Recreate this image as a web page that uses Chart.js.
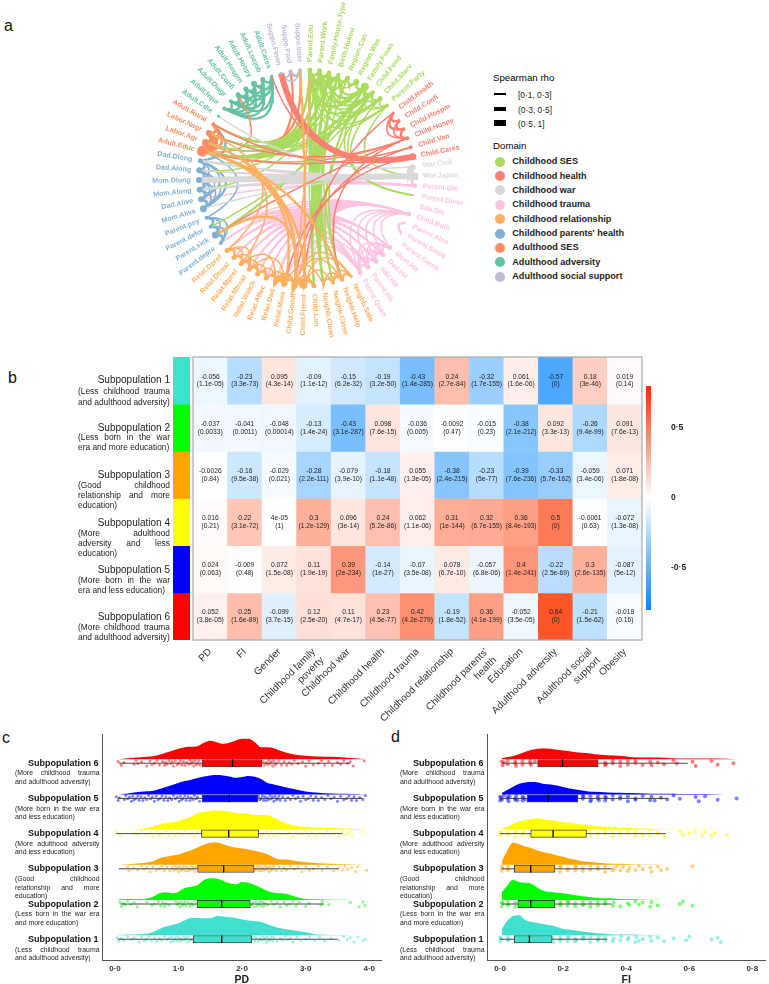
<!DOCTYPE html>
<html>
<head>
<meta charset="utf-8">
<title>Subpopulations</title>
<script src="https://cdn.jsdelivr.net/npm/chart.js@4"></script>
<style>
  html, body { margin: 0; padding: 0; background: #fff; }
  #page { position: relative; width: 769px; height: 984px; overflow: hidden; font-family: "Liberation Sans", Arial, sans-serif; }
  #page canvas { position: absolute; }
  .txt { position: absolute; color: #222; line-height: 1; }
  .dot { position: absolute; border-radius: 50%; }
  .key { position: absolute; background: #000; }
</style>
</head>
<body>
<div id="page"></div>
<script>
'use strict';

// ---- panel a: network
const nodeLabels = ['Parent.Edu','Parent.Work','Family.House.Type','Birth.Hukou','Region.Can','Region.Was','Family.Finan','Child.Food','Child.Starv','Parent.Party',
  'Child.Health','Child.Confi','Child.Hospm','Child.Hospy','Child.Van','Child.Cares','War.Civil','War.Japan',
  'Parent.Die','Parent.Divor','Sibl.Die','Child.Bulli','Parent.Alco','Parent.Smok','Parent.Gamb','Mom.Hit','Dad.Hit','Sibl.Hit','Parent.Hit','Parent.Quarr',
  'Neighb.Safe','Neighb.Help','Neighb.Close','Neighb.Clean','Child.Lon','Child.Friend','Child.Goodf','Relat.Mom','Relat.Dad','Relat.Affec','Relat.Watch','Relat.Mtreat','Relat.Mpref','Relat.Dtreat','Relat.Dpref',
  'Parent.depre','Parent.sick','Parent.defor','Parent.psy','Mom.Alive','Dad.Alive','Mom.Along','Mom.Dlong','Dad.Along','Dad.Dlong',
  'Adult.Educ','Labor.Agr','Labor.Nagr','Adult.Rural',
  'Adult.Cdie','Adult.Injur','Adult.Diagr','Adult.Confi','Adult.Hospm','Adult.Hospy','Adult.Losjob','Adult.Cares',
  'Suppo.Finan','Suppo.Paid','Suppo.Inter'];
const nodeDomain = [0,0,0,0,0,0,0,0,0,0, 1,1,1,1,1,1, 2,2, 3,3,3,3,3,3,3,3,3,3,3,3,
  4,4,4,4,4,4,4,4,4,4,4,4,4,4,4, 5,5,5,5,5,5,5,5,5,5, 6,6,6,6, 7,7,7,7,7,7,7,7, 8,8,8];
const nodeSize = [2.5,2.5,2,2,2.5,3,4,2,2.5,2, 1.5,2,2,2,2,3.5, 1.5,3.5,
  2.5,1,0.5,2.5,1,1,0.8,2.5,2.5,2.5,2.5,2.5,
  1.5,2,2,1.5,2.5,3,3,2.5,2.5,2.5,2.5,2.5,2.5,2.5,2.5,
  2,3.5,2,2,3.5,3,3,3,3,2.5, 5.5,3,3,2, 1.5,2,2,2.5,2.5,3,2.5,1.5, 1.5,2,2];
const domainNames = ['Childhood SES','Childhood health','Childhood war','Childhood trauma','Childhood relationship',"Childhood parents' health",'Adulthood SES','Adulthood adversity','Adulthood social support'];
const domainColors = ['#A9DB5F','#FB8072','#D9D9D9','#FFC4E1','#FFB062','#80B1D3','#FC8D62','#66C2A5','#BEBADA'];
const rhoKeyLabels = ['[0·1, 0·3]','(0·3, 0·5]','(0·5, 1]'];

// edges: [from, to, width class] (no class = thinnest)
const sesEdges = [[0,1,2],[0,2,2],[0,3,2],[1,2,2],[1,3,2],[2,3,2],[0,4],[1,4],[3,4],[4,5,2],[3,5],[0,6,2],[1,6,2],[2,6,2],[3,6,2],[0,7,2],[1,7],[2,7,2],[3,7],[6,7,2],[7,8],[6,8],[2,8],[1,8],[0,8],[8,9],[6,9],[7,9],[0,9],[1,9],[5,6,2],
  [0,55,2],[1,55,2],[2,55,2],[3,55,2],[6,55,2],[7,55],[0,56],[1,56],[2,56],[3,56],[0,57],[1,57],[2,57],[3,57],[0,58],[1,58],[3,58],[4,58],[6,57],[7,57],[0,54],[1,53],[2,51],[6,46,2],[7,47],[0,33,2],[1,33],[2,33,2],[1,32],[2,32],[0,34],[3,34],[3,31],[4,33],[6,31],[8,19],[9,17],
  [0,32],[1,34],[2,34],[3,33],[3,32],[6,32],[7,33],[6,19],[7,19]];
const healthEdges = [[10,11,2],[11,12,2],[12,13,2],[10,12,2],[11,13],[10,13],[15,67,3],[13,46],[14,36],[15,37],[10,35],[13,31],[15,66],[14,55],[15,58],[13,57]];
const warEdges = [[16,17,3],[16,59],[17,54,2],[17,52,3],[17,51,2],[17,53],[17,49]];
const traumaEdges = [[18,52,2],[18,51,2],[18,53],[18,50],[18,54],[22,23,2],[25,26,2],[26,27,2],[27,28,2],[28,29,2],[25,27],[26,28],[27,29],[25,28],[25,29],[26,29],[21,25],[21,26],[21,27],[21,28],[21,29],
  [21,46],[25,41],[26,43],[25,37],[26,38],[28,39],[29,39],[29,40],[28,41],[27,42],[25,42],[26,44],[25,44],[26,42],[21,41],[21,39],[21,40],[29,38],[29,37],[21,37],[28,36],[29,36],[21,36],[26,40],[21,45],[25,45],[29,44],[28,43],
  [21,34],[21,35],[21,38],[21,42],[21,43],[21,44],[29,41],[29,42],[28,40],[28,42],[27,41],[27,40],[25,40],[26,41],[26,39],[25,39],[28,44],[29,43],[25,46],[26,46],[28,46],[27,46],[26,45],[28,45]];
const relationEdges = [[30,31,2],[31,32,2],[32,33],[30,32],[31,33],[34,35,2],[35,36,3],[34,36],[36,37,2],[37,38,3],[36,38,2],[37,39],[38,39,2],[39,40,2],[38,40],[40,41,2],[39,41],[41,42,2],[40,42],[42,43,2],[41,43],[43,44,2],[42,44],[41,44],[37,41],[38,42],[36,35],[30,35],[31,36],[32,35],[30,36],[33,37],
  [35,69,2],[36,55,2],[37,55,2],[36,56,2],[35,55,2],[46,36,2],[31,55,2],[44,57],[42,56],[36,0]];
const parentEdges = [[45,46,2],[46,47,2],[47,48,2],[45,47],[46,48],[45,48],[49,50,2],[50,51,2],[51,52,2],[52,53,2],[53,54,2],[49,51],[50,52],[51,53],[52,54],[49,52],[50,53],[49,53],[50,54],[49,54,2],[54,58,2],[48,55]];
const adultSesEdges = [[55,56,3],[55,57,3],[55,58,2],[56,57,2],[56,58,2],[57,58,2],[55,68,2],[58,69,2],[55,62],[55,13]];
const adversityEdges = [[60,61,2],[61,62,2],[62,63,2],[63,64,2],[64,65,2],[65,66,2],[60,62,2],[61,63,2],[62,64,2],[63,65,2],[64,66,2],[60,63,2],[61,64,2],[62,65,2],[63,66,2],[60,65,2],[61,66,2],[60,66,2],[60,64,2],[61,65,2]];
const supportEdges = [[68,69,2],[67,68],[67,69],[68,69]];
const edgeWidths = [0, 1.5, 2.3, 6];

// ---- panel b: heatmap
const heatColumns = ['PD','FI','Gender',['Childhood family','poverty'],'Childhood war','Childhood health','Childhood trauma','Childhood relationship',["Childhood parents'",'health'],'Education','Adulthood adversity',['Adulthood social','support'],'Obesity'];
const rhoRow1 = ['-0.056','-0.23','0.095','-0.09','-0.15','-0.19','-0.43','0.24','-0.32','0.061','-0.57','0.18','0.019'];
const pRow1 = ['1.1e-05','3.3e-73','4.3e-14','1.1e-12','6.2e-32','3.2e-50','1.4e-285','2.7e-84','1.7e-155','1.6e-06','0','3e-46','0.14'];
const rhoRow2 = ['-0.037','-0.041','-0.048','-0.13','-0.43','0.098','-0.036','-0.0092','-0.015','-0.38','0.092','-0.26','0.091'];
const pRow2 = ['0.0033','0.0011','0.00014','1.4e-24','3.1e-287','7.6e-15','0.005','0.47','0.23','2.1e-212','3.3e-13','9.4e-99','7.6e-13'];
const rhoRow3 = ['-0.0026','-0.16','-0.029','-0.28','-0.079','-0.18','0.055','-0.38','-0.23','-0.39','-0.33','-0.059','0.071'];
const pRow3 = ['0.84','9.5e-38','0.021','2.2e-111','3.9e-10','1.1e-48','1.3e-05','2.4e-215','5e-77','7.6e-236','5.7e-162','3.4e-06','1.8e-08'];
const rhoRow4 = ['0.016','0.22','4e-05','0.3','0.096','0.24','0.062','0.31','0.32','0.36','0.5','-0.0061','-0.072'];
const pRow4 = ['0.21','3.1e-72','1','1.2e-129','3e-14','5.2e-86','1.1e-06','1e-144','6.7e-155','8.4e-193','0','0.63','1.3e-08'];
const rhoRow5 = ['0.024','-0.009','0.072','0.11','0.39','-0.14','-0.07','0.078','-0.057','0.4','-0.22','0.3','-0.087'];
const pRow5 = ['0.063','0.48','1.5e-08','1.9e-19','2e-234','1e-27','3.5e-08','6.7e-10','6.8e-06','1.4e-241','2.5e-69','2.6e-135','5e-12'];
const rhoRow6 = ['0.052','0.25','-0.099','0.12','0.11','0.23','0.42','-0.19','0.36','-0.052','0.64','-0.21','-0.018'];
const pRow6 = ['3.8e-05','1.6e-89','3.7e-15','2.5e-20','4.7e-17','4.5e-77','4.2e-279','1.8e-52','4.1e-199','3.5e-05','0','1.5e-62','0.16'];
const rhoRows = [rhoRow1,rhoRow2,rhoRow3,rhoRow4,rhoRow5,rhoRow6];
const pRows = [pRow1,pRow2,pRow3,pRow4,pRow5,pRow6];
const subColors = ['#40E0D0','#00FF00','#FFA500','#FFFF00','#0000FF','#FF0000'];
const subRgb = ['64,224,208','0,255,0','255,165,0','255,255,0','0,0,255','255,0,0'];
const heatDesc = [['(Less childhood trauma','and adulthood adversity)'],['(Less born in the war','era and more education)'],['(Good childhood','relationship and more','education)'],['(More adulthood','adversity and less','education)'],['(More born in the war','era and less education)'],['(More childhood trauma','and adulthood adversity)']];
const rainDesc = [['(Less childhood trauma','and adulthood adversity)'],['(Less born in the war era','and more education)'],['(Good childhood','relationship and more','education)'],['(More adulthood adversity','and less education)'],['(More born in the war era','and less education)'],['(More childhood trauma','and adulthood adversity)']];

// ---- panels c, d: rainclouds
const pdGrid = [0.05,0.2,0.4,0.6,0.7,0.8,0.9,1.0,1.1,1.2,1.3,1.4,1.5,1.6,1.7,1.8,1.9,2.0,2.1,2.2,2.3,2.4,2.5,2.6,2.7,2.8,3.0,3.2,3.4,3.6,3.95];
const pdDensity1 = [.01,.02,.03,.10,.19,.26,.31,.36,.45,.52,.52,.51,.51,.58,.56,.54,.52,.47,.44,.42,.40,.33,.26,.21,.18,.15,.09,.02,.01,.01,0];
const pdDensity2 = [.02,.03,.03,.10,.20,.23,.20,.25,.36,.40,.45,.60,.65,.64,.58,.50,.47,.54,.52,.45,.36,.27,.22,.20,.18,.12,.03,.02,.01,.01,0];
const pdDensity3 = [0,.02,.05,.11,.20,.24,.28,.31,.38,.44,.52,.60,.66,.67,.62,.56,.52,.49,.46,.42,.38,.32,.22,.16,.16,.13,.08,.05,.03,.02,0];
const pdDensity4 = [0,.01,.02,.09,.15,.19,.22,.26,.32,.39,.49,.53,.56,.57,.56,.54,.50,.49,.47,.44,.44,.43,.36,.26,.18,.13,.08,.06,.05,.03,0];
const pdDensity5 = [0,.03,.08,.11,.16,.22,.28,.35,.40,.44,.49,.54,.57,.58,.57,.54,.50,.52,.55,.53,.46,.34,.30,.25,.21,.17,.09,.05,.03,.02,0];
const pdDensity6 = [0,.03,.06,.09,.13,.19,.25,.31,.36,.37,.39,.49,.55,.51,.46,.49,.56,.61,.61,.51,.36,.36,.33,.25,.19,.15,.10,.08,.07,.05,0];
const pdDensities = [pdDensity1,pdDensity2,pdDensity3,pdDensity4,pdDensity5,pdDensity6];
const pdQ1 = [1.23,1.29,1.30,1.36,1.37,1.37];
const pdMedian = [1.68,1.68,1.71,1.79,1.80,1.85];
const pdQ3 = [2.15,2.13,2.19,2.26,2.25,2.31];
const pdLow = [.04,.09,.06,.02,.04,.06];
const pdHigh = [3.5,3.29,3.52,3.58,3.9,3.7];
const pdDots1 = [.03,.06,.1,.14,.2,.26,.3,.38,.42,.46,.5,.54,.58,.62,.66,.7,.74,.78,.82,.86,.88,.9,.92,.94,.96,.98,1,1.02,1.04,1.06,1.08,1.1,1.12,1.14,1.16,1.18,1.2,2.18,2.2,2.22,2.25,2.28,2.3,2.32,2.34,2.36,2.38,2.4,2.42,2.44,2.46,2.48,2.5,2.55,2.6,2.64,2.68,2.72,2.76,2.8,2.86,2.92,3,3.06,3.14,3.22,3.3,3.4,3.52,3.6,3.65,3.7,3.76,3.82,3.9,3.94];
const pdDots2 = [.08,.1,.13,.16,.2,.25,.3,.35,.5,.58,.62,.68,.72,.75,.78,.8,.85,.95,.98,1,1.02,1.04,1.06,1.08,1.1,1.12,1.15,1.18,1.2,1.23,1.26,2.15,2.17,2.2,2.22,2.24,2.26,2.28,2.3,2.32,2.34,2.36,2.4,2.46,2.5,2.55,2.6,2.66,2.7,2.75,2.8,2.85,2.9,3,3.05,3.24,3.26,3.36,3.7,3.84,3.9,3.93];
const pdDots3 = [.2,.22,.3,.36,.42,.46,.5,.55,.6,.65,.7,.74,.78,.82,.86,.9,.92,.94,.96,.98,1,1.02,1.04,1.06,1.08,1.1,1.12,1.14,1.16,1.18,1.2,1.22,1.24,1.26,1.28,2.2,2.22,2.24,2.26,2.28,2.3,2.32,2.34,2.36,2.38,2.4,2.42,2.44,2.46,2.48,2.5,2.54,2.58,2.62,2.66,2.7,2.76,2.82,2.88,2.94,3,3.06,3.12,3.2,3.26,3.34,3.44,3.52,3.58,3.62,3.66,3.72,3.78,3.82,3.96];
const pdDots4 = [.03,.08,.3,.36,.42,.5,.55,.6,.66,.7,.74,.8,.85,.9,.95,1,1.05,1.1,1.15,1.2,1.25,1.3,2.3,2.34,2.38,2.42,2.46,2.5,2.55,2.6,2.65,2.7,2.75,2.8,2.85,2.9,2.95,3,3.05,3.1,3.16,3.22,3.28,3.34,3.4,3.46,3.52,3.58,3.62,3.66,3.7,3.73,3.9];
const pdDots5 = [.02,.05,.07,.15,.17,.2,.23,.26,.28,.3,.33,.36,.38,.41,.44,.47,.5,.53,.56,.59,.62,.65,.68,.71,.74,.77,.8,.83,.86,.89,.92,.95,.98,1.01,1.03,1.05,1.07,1.1,1.12,1.15,1.18,1.2,1.23,1.25,1.28,1.3,1.33,2.26,2.28,2.3,2.32,2.34,2.36,2.38,2.4,2.42,2.44,2.46,2.48,2.5,2.52,2.54,2.56,2.58,2.6,2.64,2.68,2.72,2.76,2.8,2.84,2.88,2.92,2.96,3,3.04,3.08,3.12,3.16,3.2,3.25,3.3,3.35,3.4,3.45,3.5,3.55,3.6,3.64,3.68,3.72,3.76,3.8,3.85,3.9,3.94];
const pdDots6 = [.05,.1,.14,.3,.33,.36,.42,.5,.55,.58,.62,.66,.7,.75,.78,.8,.82,.85,.88,.9,.92,.95,.98,1,1.03,1.05,1.08,1.1,1.13,1.16,1.18,1.2,1.22,1.24,1.26,1.28,1.3,1.32,1.34,2.33,2.35,2.38,2.4,2.42,2.44,2.46,2.48,2.5,2.52,2.54,2.58,2.62,2.66,2.7,2.74,2.78,2.82,2.88,2.95,3,3.05,3.12,3.2,3.25,3.3,3.36,3.42,3.5,3.55,3.6,3.66,3.7,3.75,3.92];
const pdDots = [pdDots1,pdDots2,pdDots3,pdDots4,pdDots5,pdDots6];

const fiGrid = [.005,.02,.04,.06,.08,.10,.12,.14,.16,.18,.20,.22,.24,.26,.28,.30,.34,.38,.42,.46,.50,.54,.60,.66,.72,.75];
const fiDensity1 = [1.8,4.0,5.7,6.0,4.6,4.0,3.7,3.3,3.0,2.5,1.9,1.7,1.4,1.1,.9,.7,.4,.2,.2,.1,.1,0,0,0,0,0];
const fiDensity2 = [2.3,4.0,6.0,5.4,5.2,4.9,3.6,2.7,2.4,2.2,2.0,1.7,1.4,1.1,.9,.7,.5,.3,.2,.1,.1,0,0,0,0,0];
const fiDensity3 = [1.0,3.8,6.6,6.2,5.5,5.0,4.2,3.8,3.4,2.8,2.4,1.8,1.5,1.1,.9,.7,.4,.3,.2,.1,.1,0,0,0,0,0];
const fiDensity4 = [.2,.8,1.7,2.4,2.9,3.2,3.4,3.1,2.8,2.5,2.2,2.0,1.7,1.5,1.3,1.1,.8,.6,.4,.3,.2,.1,.1,.1,0,0];
const fiDensity5 = [.4,1.2,2.2,3.2,3.6,3.7,3.6,3.1,3.0,2.7,2.2,1.8,1.5,1.2,.9,.8,.6,.5,.4,.3,.2,.2,.1,.1,0,0];
const fiDensity6 = [.3,.6,.9,1.5,2.2,2.8,3.1,3.2,3.1,2.8,2.6,2.4,2.1,1.9,1.8,1.5,1.2,1.0,.6,.5,.5,.3,.2,.2,.1,0];
const fiDensities = [fiDensity1,fiDensity2,fiDensity3,fiDensity4,fiDensity5,fiDensity6];
const fiQ1 = [.045,.056,.045,.097,.086,.119];
const fiMedian = [.093,.097,.097,.168,.153,.198];
const fiQ3 = [.165,.174,.174,.274,.247,.311];
const fiLow = [0,.005,.005,0,0,.005];
const fiHigh = [.34,.353,.353,.526,.53,.595];
const fiDots1 = [0,0,.003,.024,.024,.027,.167,.17,.19,.19,.193,.214,.214,.217,.238,.238,.241,.262,.262,.265,.286,.286,.31,.31,.313,.333,.333,.357,.36,.381,.384,.405,.408,.429,.432,.44,.452,.476,.48,.5,.52,.55,.59,.6,.67,.69,.7];
const fiDots2 = [.005,.005,.008,.024,.024,.027,.048,.048,.19,.19,.193,.214,.214,.217,.238,.238,.262,.262,.265,.286,.286,.31,.31,.333,.333,.357,.36,.381,.405,.41,.429,.44,.452,.476,.48,.5,.57,.58,.61];
const fiDots3 = [.005,.005,.008,.024,.024,.027,.19,.19,.193,.214,.214,.238,.238,.241,.262,.262,.286,.286,.31,.31,.333,.333,.357,.36,.37,.381,.39,.405,.41,.429,.44,.452,.476,.48,.5,.51,.53,.61];
const fiDots4 = [0,0,.004,.024,.024,.027,.048,.048,.051,.071,.071,.074,.09,.286,.286,.31,.31,.333,.333,.357,.357,.381,.381,.405,.405,.429,.429,.452,.452,.476,.476,.5,.5,.52,.57,.58,.6,.62,.64,.65,.67,.68,.72];
const fiDots5 = [0,0,.003,.006,.012,.024,.024,.027,.03,.048,.048,.051,.055,.071,.071,.074,.08,.262,.262,.265,.286,.286,.289,.31,.31,.313,.333,.333,.336,.357,.357,.381,.381,.405,.405,.429,.429,.452,.476,.48,.49,.51,.53,.55,.57,.62,.63,.65,.69,.75];
const fiDots6 = [.005,.008,.012,.024,.024,.048,.048,.051,.071,.071,.095,.095,.098,.11,.333,.333,.336,.357,.357,.381,.381,.405,.405,.429,.429,.452,.476,.48,.5,.52,.55,.56,.61,.62,.67,.69,.74];
const fiDots = [fiDots1,fiDots2,fiDots3,fiDots4,fiDots5,fiDots6];
const jitterOffsets = [.05,-.06,.02,-.03,.08,-.01,.04,-.08,.06,-.04,0,.07,-.05];

Chart.defaults.animation = false;
Chart.defaults.font.family = '"Liberation Sans", Arial, sans-serif';
Chart.defaults.plugins.legend.display = false;
Chart.defaults.plugins.tooltip.enabled = false;

const page = document.getElementById('page');

function addCanvas(left, top, w, h) {
    const c = document.createElement('canvas');
    c.width = w;
    c.height = h;
    c.style.cssText = `left:${left}px;top:${top}px;width:${w}px;height:${h}px`;
    page.appendChild(c);
    return c;
}

function addText(text, x, yMid, size, opts) {
    opts = opts || {};
    const d = document.createElement('div');
    d.className = 'txt';
    d.textContent = text;
    d.style.left = x + 'px';
    d.style.top = (yMid - size / 2) + 'px';
    d.style.fontSize = size + 'px';
    if (opts.width) d.style.width = opts.width + 'px';
    if (opts.justify) { d.style.textAlign = 'justify'; d.style.textAlignLast = 'justify'; }
    if (opts.right) d.style.textAlign = 'right';
    if (opts.bold) d.style.fontWeight = 'bold';
    if (opts.color) d.style.color = opts.color;
    if (!opts.justify) d.style.whiteSpace = 'nowrap';
    page.appendChild(d);
}

function addDesc(lines, x, ys, width, size) {
    lines.forEach((t, i) => {
        // the last line stays left aligned, the rest fill the width
        addText(t, x, ys[i], size, { width: width, justify: i < lines.length - 1 });
    });
}

function middleDot(v) {
    return String(v).replace('.', '·');
}

// panel letters
addText('a', 4, 26, 16, { color: '#111' });
addText('b', 8, 378, 16, { color: '#111' });
addText('c', 2, 738, 16, { color: '#111' });
addText('d', 391, 737, 16, { color: '#111' });

// ---- panel a
const chordR = 108, chordX = 307, chordY = 178;

function nodeAt(i, r) {
    const a = (1.5 + i * 360 / nodeLabels.length) * Math.PI / 180;
    return { x: Math.sin(a) * r, y: Math.cos(a) * r };
}

function arcPoints(i, j) {
    const p = nodeAt(i, 1), q = nodeAt(j, 1);
    const mx = (p.x + q.x) / 2, my = (p.y + q.y) / 2;
    const len = Math.hypot(p.x - q.x, p.y - q.y), dm = Math.hypot(mx, my) || 1e-6;
    const k = Math.min(len, dm);
    const cx = mx - mx / dm * k, cy = my - my / dm * k;
    const pts = [];
    for (let s = 0; s <= 24; s++) {
        const t = s / 24, u = 1 - t;
        pts.push({ x: u * u * p.x + 2 * u * t * cx + t * t * q.x, y: u * u * p.y + 2 * u * t * cy + t * t * q.y });
    }
    return pts;
}

const edgeGroups = [sesEdges, healthEdges, warEdges, traumaEdges, relationEdges, parentEdges, adultSesEdges, adversityEdges, supportEdges];
const chordSets = [{
    data: nodeLabels.map((_, i) => nodeAt(i, 1)),
    pointRadius: nodeSize,
    pointBackgroundColor: nodeDomain.map(d => domainColors[d]),
    pointBorderWidth: 0
}];
// first listed comes out on top
[4, 1, 2, 0, 8, 6, 7, 5, 3].forEach(g => {
    edgeGroups[g].forEach(e => {
        chordSets.push({
            data: arcPoints(e[0], e[1]),
            showLine: true,
            pointRadius: 0,
            borderColor: domainColors[g],
            borderWidth: edgeWidths[e[2] || 1]
        });
    });
});

const nodeTextPlugin = {
    id: 'nodeText',
    afterDatasetsDraw(chart) {
        const ctx = chart.ctx, sx = chart.scales.x, sy = chart.scales.y;
        ctx.save();
        ctx.font = 'bold 7.1px "Liberation Sans"';
        ctx.textBaseline = 'middle';
        nodeLabels.forEach((name, i) => {
            const deg = 1.5 + i * 360 / nodeLabels.length;
            const pos = nodeAt(i, 1.075);
            ctx.save();
            ctx.translate(sx.getPixelForValue(pos.x), sy.getPixelForValue(pos.y));
            ctx.fillStyle = domainColors[nodeDomain[i]];
            if (deg < 180) {
                ctx.rotate((deg - 90) * Math.PI / 180);
                ctx.textAlign = 'left';
            } else {
                ctx.rotate((deg + 90) * Math.PI / 180);
                ctx.textAlign = 'right';
            }
            ctx.fillText(name, 0, 0);
            ctx.restore();
        });
        ctx.restore();
    }
};

new Chart(addCanvas(0, 0, 480, 345), {
    type: 'scatter',
    data: { datasets: chordSets },
    plugins: [nodeTextPlugin],
    options: {
        responsive: false,
        devicePixelRatio: 1,
        layout: { autoPadding: false },
        scales: {
            x: { display: false, min: -chordX / chordR, max: (480 - chordX) / chordR },
            y: { display: false, min: -(345 - chordY) / chordR, max: chordY / chordR }
        }
    }
});

// legend of panel a
addText('Spearman rho', 493, 78, 9.7, { color: '#000' });
[[94, 1.5], [109, 3.5], [123, 6]].forEach((k, i) => {
    const bar = document.createElement('div');
    bar.className = 'key';
    bar.style.cssText = `left:494px;top:${k[0] - k[1] / 2}px;width:12px;height:${k[1]}px`;
    page.appendChild(bar);
    addText(rhoKeyLabels[i], 518, k[0] + 1.5, 8.4, { color: '#222' });
});
addText('Domain', 493, 145.7, 9.7, { color: '#000' });
domainNames.forEach((name, i) => {
    const y = 161.7 + i * 14.37;
    const dot = document.createElement('div');
    dot.className = 'dot';
    dot.style.cssText = `left:495px;top:${y - 5}px;width:10px;height:10px;background:${domainColors[i]}`;
    page.appendChild(dot);
    addText(name, 512.3, y, 9.1, { bold: true, color: '#222' });
});

// ---- panel b
function heatColor(v) {
    const a = Math.min(Math.abs(v), 0.8);
    if (v >= 0) return `rgb(255,${Math.round(255 - a * 265)},${Math.max(0, Math.round(255 - a * 335))})`;
    return `rgb(${Math.round(255 - a * 315)},${Math.round(255 - a * 150)},255)`;
}

const heatTextPlugin = {
    id: 'heatText',
    afterDatasetsDraw(chart) {
        const ctx = chart.ctx, sx = chart.scales.x, sy = chart.scales.y, area = chart.chartArea;
        ctx.save();
        ctx.font = '6.7px "Liberation Sans"';
        ctx.fillStyle = '#222';
        ctx.textAlign = 'center';
        ctx.textBaseline = 'middle';
        rhoRows.forEach((row, r) => {
            row.forEach((rho, c) => {
                const x = sx.getPixelForValue(c), y = sy.getPixelForValue(r + 0.5);
                ctx.fillText(rho, x, y - 3.9);
                ctx.fillText('(' + pRows[r][c] + ')', x, y + 3.9);
            });
        });
        ctx.strokeStyle = '#aaa';
        ctx.lineWidth = 1.2;
        ctx.strokeRect(area.left, area.top, area.right - area.left, area.bottom - area.top);
        ctx.restore();
    }
};

new Chart(addCanvas(0, 345, 769, 380), {
    type: 'bar',
    data: {
        labels: heatColumns,
        datasets: rhoRows.map((row, r) => ({
            data: row.map(() => [r, r + 1]),
            backgroundColor: row.map(v => heatColor(Number(v))),
            barPercentage: 1,
            categoryPercentage: 1,
            grouped: false
        }))
    },
    plugins: [heatTextPlugin],
    options: {
        responsive: false,
        devicePixelRatio: 1,
        layout: { padding: { left: 193, right: 127, top: 12, bottom: 0 } },
        scales: {
            x: {
                grid: { display: false, drawTicks: false },
                border: { display: false },
                afterFit: s => { s.height = 85; },
                ticks: { minRotation: 45, maxRotation: 45, autoSkip: false, padding: 6, color: '#333', font: { size: 10 } }
            },
            y: { display: false, min: 0, max: 6, reverse: true }
        }
    }
});

// row colour strip
new Chart(addCanvas(173, 357, 17, 283), {
    type: 'bar',
    data: {
        labels: ['group'],
        datasets: subColors.map((col, r) => ({
            data: [[r, r + 1]],
            backgroundColor: col,
            barPercentage: 1,
            categoryPercentage: 1,
            grouped: false
        }))
    },
    options: {
        responsive: false,
        devicePixelRatio: 1,
        scales: { x: { display: false }, y: { display: false, min: 0, max: 6, reverse: true } }
    }
});

// colour bar
const barRange = [-0.8, 0.8];
const barTicks = [-0.5, 0, 0.5];
new Chart(addCanvas(640, 365, 60, 266), {
    type: 'bar',
    data: {
        labels: ['rho'],
        datasets: [{
            data: [barRange],
            barPercentage: 1,
            categoryPercentage: 1,
            backgroundColor(ctx) {
                const area = ctx.chart.chartArea;
                if (!area) return '#fff';
                const g = ctx.chart.ctx.createLinearGradient(0, area.bottom, 0, area.top);
                for (let i = 0; i <= 16; i++) {
                    g.addColorStop(i / 16, heatColor(barRange[0] + (barRange[1] - barRange[0]) * i / 16));
                }
                return g;
            }
        }]
    },
    options: {
        responsive: false,
        devicePixelRatio: 1,
        layout: { padding: { left: 6, top: 8, bottom: 8, right: 0 } },
        scales: {
            x: { display: false },
            y: {
                position: 'right',
                min: barRange[0],
                max: barRange[1],
                afterFit: s => { s.width = 49; },
                afterBuildTicks: s => { s.ticks = barTicks.map(v => ({ value: v })); },
                grid: { display: false, drawTicks: true, tickLength: 4, tickColor: '#555' },
                border: { display: false },
                ticks: { padding: 16, color: '#222', font: { size: 8.5, weight: 'bold' }, callback: v => middleDot(v) }
            }
        }
    }
});

// row names of the heatmap
const heatTitleY = [380, 427.7, 475, 522.7, 570, 617];
const heatDescY = [[391, 402], [437, 447], [485, 494.7, 504.7], [532.7, 543, 553], [580, 590], [627, 637]];
heatTitleY.forEach((y, r) => {
    addText('Subpopulation ' + (r + 1), 70, y, 10, { width: 100, right: true });
    addDesc(heatDesc[r], 78, heatDescY[r], 92, 8.4);
});

// ---- panels c, d
const rows = [1, 2, 3, 4, 5, 6];
const cloudBase = 0.114, boxHalf = 0.105;

function rainChart(left, width, grid, densities, densityScale, q1, med, q3, low, high, dots, dotSize, xMin, xMax, xTicks, xName) {
    const sets = [];
    // medians on top
    const medData = [], whisker = [];
    rows.forEach((row, i) => {
        medData.push({ x: med[i], y: row - boxHalf }, { x: med[i], y: row + boxHalf }, { x: null, y: null });
        whisker.push({ x: low[i], y: row }, { x: high[i], y: row }, { x: null, y: null });
    });
    sets.push({ data: medData, showLine: true, pointRadius: 0, borderColor: '#000', borderWidth: 1.3 });
    sets.push({
        type: 'bar',
        indexAxis: 'y',
        data: rows.map((row, i) => ({ x: [q1[i], q3[i]], y: row })),
        backgroundColor: subColors,
        borderColor: '#444',
        borderWidth: 1,
        barThickness: 7.4,
        grouped: false,
        borderSkipped: false
    });
    sets.push({ data: whisker, showLine: true, pointRadius: 0, borderColor: '#333', borderWidth: 0.9 });
    rows.forEach((row, i) => {
        sets.push({
            data: dots[i].map((v, k) => ({ x: v, y: row + jitterOffsets[k % jitterOffsets.length] })),
            pointRadius: dotSize,
            pointBorderWidth: 0,
            pointBackgroundColor: `rgba(${subRgb[i]},0.5)`
        });
    });
    rows.forEach((row, i) => {
        const base = row + cloudBase;
        sets.push({
            data: grid.map((v, k) => ({ x: v, y: base + densities[i][k] * densityScale })),
            showLine: true,
            pointRadius: 0,
            borderWidth: 0,
            cubicInterpolationMode: 'monotone',
            backgroundColor: subColors[i],
            fill: { value: base }
        });
    });

    new Chart(addCanvas(left, 725, width, 261), {
        type: 'scatter',
        data: { datasets: sets },
        options: {
            responsive: false,
            devicePixelRatio: 1,
            layout: { padding: { top: 9, right: 3, left: 0, bottom: 0 } },
            scales: {
                x: {
                    type: 'linear',
                    offset: false,
                    min: xMin,
                    max: xMax,
                    afterFit: s => { s.height = 26; },
                    afterBuildTicks: s => { s.ticks = xTicks.map(v => ({ value: v })); },
                    grid: { display: false, tickLength: 3, drawTicks: true, tickColor: '#444' },
                    border: { color: '#555', width: 1 },
                    title: { display: true, text: xName, color: '#222', padding: 0, font: { size: 10.5, weight: 'bold' } },
                    ticks: { padding: 1, color: '#333', font: { size: 8, weight: 'bold' }, callback: v => middleDot(v.toFixed(1)) }
                },
                y: {
                    type: 'linear',
                    offset: false,
                    min: 0.41,
                    max: 6.83,
                    afterFit: s => { s.width = 102.5; },
                    afterBuildTicks: s => { s.ticks = rows.map(v => ({ value: v })); },
                    grid: { display: false, offset: false, tickLength: 3, drawTicks: true, tickColor: '#444' },
                    border: { color: '#555', width: 1 },
                    ticks: { padding: 1, color: '#111', font: { size: 9, weight: 'bold' }, callback: v => 'Subpopulation ' + v }
                }
            }
        }
    });
}

rainChart(0, 385, pdGrid, pdDensities, 0.947, pdQ1, pdMedian, pdQ3, pdLow, pdHigh, pdDots, 1.5, -0.196, 4.185, [0, 1, 2, 3, 4], 'PD');
rainChart(385, 384, fiGrid, fiDensities, 0.0947, fiQ1, fiMedian, fiQ3, fiLow, fiHigh, fiDots, 2, -0.04, 0.84, [0, 0.2, 0.4, 0.6, 0.8], 'FI');

const rainDescY = [[950.3, 958.7], [914.7, 923], [879.3, 888, 896], [844, 852], [809, 817.3], [773.7, 782.3]];
rainDesc.forEach((lines, r) => {
    addDesc(lines, 15, rainDescY[r], 84.5, 6.9);
    addDesc(lines, 400, rainDescY[r], 84.5, 6.9);
});
</script>
</body>
</html>
